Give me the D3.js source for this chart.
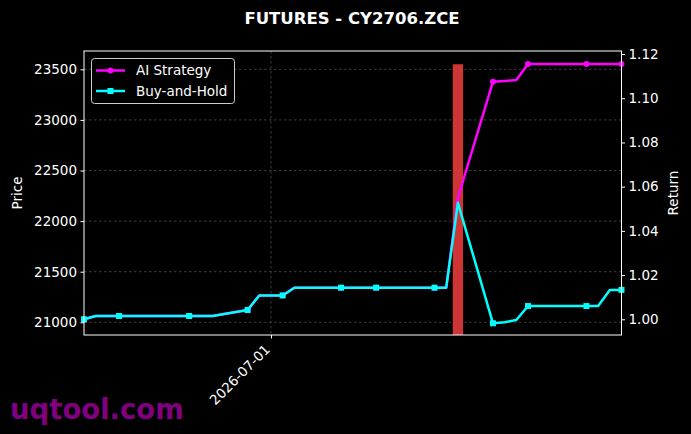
<!DOCTYPE html>
<html>
<head>
<meta charset="utf-8">
<script src="https://cdn.jsdelivr.net/npm/d3@7/dist/d3.min.js"></script>
<style>
  html, body { margin: 0; padding: 0; background: #000; }
  svg { display: block; font-family: "DejaVu Sans", sans-serif; }
</style>
</head>
<body>
<svg id="chart" width="691" height="434"></svg>
<script>
// ---- data ----
const dates = ["2026-06-15","2026-06-16","2026-06-17","2026-06-18","2026-06-22","2026-06-23","2026-06-24","2026-06-25","2026-06-26","2026-06-29",
  "2026-06-30","2026-07-01","2026-07-02","2026-07-03","2026-07-06","2026-07-07","2026-07-08","2026-07-09","2026-07-10","2026-07-13",
  "2026-07-14","2026-07-15","2026-07-16","2026-07-17","2026-07-20","2026-07-21","2026-07-22","2026-07-23","2026-07-24","2026-07-27",
  "2026-07-28","2026-07-29","2026-07-30","2026-07-31"];
const buyHold = [1.0000,1.0015,1.0015,1.0015,1.0015,1.0015,1.0015,1.0015,1.0015,1.0042,
  1.0108,1.0108,1.0108,1.0143,1.0143,1.0143,1.0143,1.0143,1.0143,1.0143,
  1.0143,1.0143,1.0143,1.0527,0.9982,0.9987,0.9997,1.0060,1.0060,1.0060,
  1.0060,1.0060,1.0133,1.0133];
const aiStrategy = [1.0000,1.0015,1.0015,1.0015,1.0015,1.0015,1.0015,1.0015,1.0015,1.0042,
  1.0108,1.0108,1.0108,1.0143,1.0143,1.0143,1.0143,1.0143,1.0143,1.0143,
  1.0143,1.0143,1.0143,1.0549,1.1075,1.1078,1.1082,1.1155,1.1155,1.1155,
  1.1155,1.1155,1.1155,1.1155];
const priceTicks = [21000, 21500, 22000, 22500, 23000, 23500];
const returnTicks = [1.00, 1.02, 1.04, 1.06, 1.08, 1.10, 1.12];
const dateTicks = ["2026-07-01"];
const signalDates = ["2026-07-17"];
const signalPrice = [23550];
const seriesNames = ["AI Strategy", "Buy-and-Hold"];

// ---- layout ----
const svg = d3.select("#chart");
const W = 691, H = 434;
const L = 84, R = 621.5, T = 51, B = 335;
const FS = "13.5px";
svg.append("rect").attr("width", W).attr("height", H).attr("fill", "#000");

const parse = d3.utcParse("%Y-%m-%d");
const xd = dates.map(parse);
const x = d3.scaleUtc().domain([parse("2026-06-15"), parse("2026-07-31")]).range([L, R]);
const yL = d3.scaleLinear().domain([20874.5, 23681]).range([B, T]);
const yR = d3.scaleLinear().domain([0.9929, 1.12136]).range([B, T]);

// grid
const grid = svg.append("g");
priceTicks.forEach(v => {
  grid.append("line").attr("x1", L).attr("x2", R).attr("y1", yL(v)).attr("y2", yL(v))
    .attr("stroke", "#4d4d4d").attr("stroke-width", 0.8).attr("stroke-dasharray", "2.5,2.5");
});
dateTicks.forEach(d => {
  const xx = x(parse(d));
  grid.append("line").attr("x1", xx).attr("x2", xx).attr("y1", T).attr("y2", B)
    .attr("stroke", "#4d4d4d").attr("stroke-width", 0.8).attr("stroke-dasharray", "2.5,2.5");
});

// signal bar
const dayMs = 86400000;
signalDates.forEach((d, i) => {
  const c = parse(d).getTime();
  const x0 = x(new Date(c - 0.4 * dayMs)), x1 = x(new Date(c + 0.4 * dayMs));
  svg.append("rect").attr("x", x0 - 0.5).attr("width", x1 - x0 + 1)
    .attr("y", yL(signalPrice[i])).attr("height", B - yL(signalPrice[i]))
    .attr("fill", "#e03a3a").attr("opacity", 0.92);
});

// lines
const line = d3.line().x((d, i) => x(xd[i])).y(d => yR(d));
svg.append("path").datum(aiStrategy).attr("d", line).attr("fill", "none")
  .attr("stroke", "#ff00ff").attr("stroke-width", 2.5).attr("stroke-linejoin", "round");
svg.append("g").selectAll("circle").data(aiStrategy.map((v, i) => [i, v]).filter(d => d[0] % 3 === 0))
  .join("circle").attr("cx", d => x(xd[d[0]])).attr("cy", d => yR(d[1])).attr("r", 3).attr("fill", "#ff00ff");

svg.append("path").datum(buyHold).attr("d", line).attr("fill", "none")
  .attr("stroke", "#00ffff").attr("stroke-width", 2.5).attr("stroke-linejoin", "round");
svg.append("g").selectAll("rect").data(buyHold.map((v, i) => [i, v]).filter(d => d[0] % 3 === 0))
  .join("rect").attr("x", d => x(xd[d[0]]) - 3).attr("y", d => yR(d[1]) - 3)
  .attr("width", 6).attr("height", 6).attr("fill", "#00ffff");

// frame
svg.append("rect").attr("x", L).attr("y", T).attr("width", R - L).attr("height", B - T)
  .attr("fill", "none").attr("stroke", "#fff").attr("stroke-width", 1);

// axes
const axL = svg.append("g").attr("transform", `translate(${L},0)`)
  .call(d3.axisLeft(yL).tickValues(priceTicks).tickFormat(d3.format("d")).tickSize(3.5).tickPadding(3.5));
const axR = svg.append("g").attr("transform", `translate(${R},0)`)
  .call(d3.axisRight(yR).tickValues(returnTicks).tickFormat(d3.format(".2f")).tickSize(3.5).tickPadding(3.5));
const axB = svg.append("g").attr("transform", `translate(0,${B})`)
  .call(d3.axisBottom(x).tickValues(dateTicks.map(parse)).tickFormat(d3.utcFormat("%Y-%m-%d")).tickSize(3.5).tickPadding(3.5));
[axL, axR, axB].forEach(a => {
  a.select(".domain").remove();
  a.selectAll(".tick line").attr("stroke", "#fff");
  a.selectAll(".tick text").attr("fill", "#fff").style("font-size", FS).style("font-family", "DejaVu Sans");
});
axB.selectAll(".tick text").attr("x", 0).attr("y", 0).attr("dy", "0.35em").attr("text-anchor", "end")
  .attr("transform", "translate(-4,12) rotate(-45)");

// axis labels
svg.append("text").attr("transform", `translate(22,${(T + B) / 2}) rotate(-90)`)
  .attr("text-anchor", "middle").attr("fill", "#fff").style("font-size", FS).text("Price");
svg.append("text").attr("transform", `translate(678,${(T + B) / 2}) rotate(-90)`)
  .attr("text-anchor", "middle").attr("fill", "#fff").style("font-size", FS).text("Return");

// title
svg.append("text").attr("x", 352).attr("y", 24).attr("text-anchor", "middle").attr("fill", "#fff")
  .style("font-size", "16.5px").style("font-weight", "bold").text("FUTURES - CY2706.ZCE");

// legend
const lg = svg.append("g");
lg.append("rect").attr("x", 91.5).attr("y", 58.5).attr("width", 143).attr("height", 45).attr("rx", 3)
  .attr("fill", "#000").attr("stroke", "#cccccc").attr("stroke-width", 1);
const lgColors = ["#ff00ff", "#00ffff"];
seriesNames.forEach((n, i) => {
  const yy = 70.5 + i * 20.5;
  lg.append("line").attr("x1", 96).attr("x2", 125).attr("y1", yy).attr("y2", yy)
    .attr("stroke", lgColors[i]).attr("stroke-width", 2.5);
  if (i === 0) lg.append("circle").attr("cx", 110.5).attr("cy", yy).attr("r", 3).attr("fill", lgColors[i]);
  else lg.append("rect").attr("x", 107.5).attr("y", yy - 3).attr("width", 6).attr("height", 6).attr("fill", lgColors[i]);
  lg.append("text").attr("x", 136).attr("y", yy).attr("dy", "0.35em").attr("fill", "#fff")
    .style("font-size", FS).text(n);
});

// watermark
svg.append("text").attr("x", 10).attr("y", 419).attr("fill", "#800080")
  .style("font-size", "27.5px").style("font-weight", "bold").text("uqtool.com");
</script>
</body>
</html>
